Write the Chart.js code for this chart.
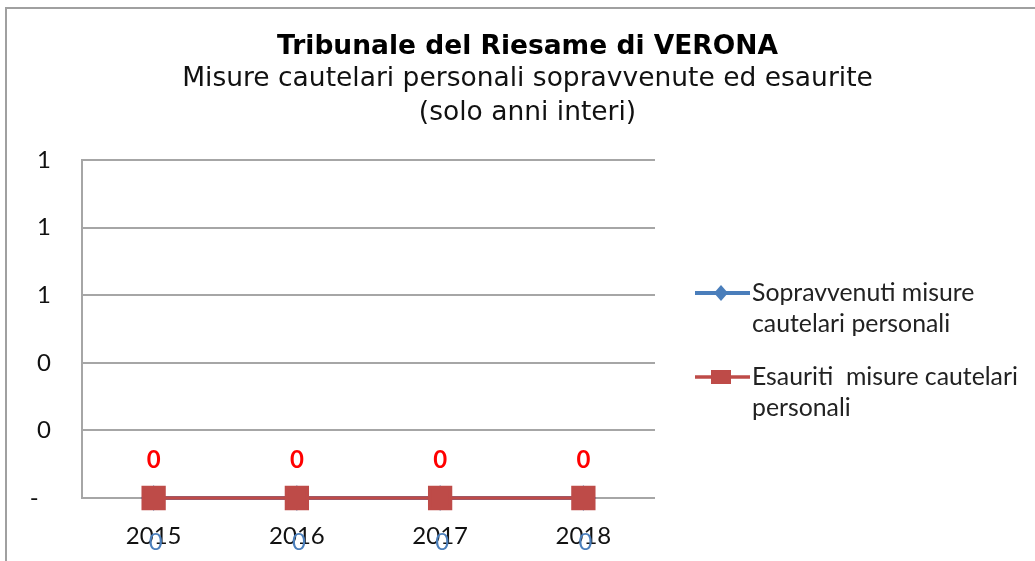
<!DOCTYPE html>
<html>
<head>
<meta charset="utf-8">
<script src="https://cdn.jsdelivr.net/npm/chart.js@4"></script>
<style>
    html, body { margin: 0; padding: 0; background: #fff; overflow: hidden; }
    #frame {
        position: absolute; left: 5px; top: 7px; width: 1100px; height: 600px;
        border-left: 2px solid #a0a0a0; border-top: 2px solid #a0a0a0;
    }
    #myChart { position: absolute; left: 0; top: 0; }
</style>
</head>
<body>
<div id="frame"></div>
<canvas id="myChart" width="1035" height="561"></canvas>
<script>
// Dati del grafico
const categories = ["2015", "2016", "2017", "2018"];
const sopravvenuti = [0, 0, 0, 0];
const esauriti = [0, 0, 0, 0];
const yTickLabels = ["-  ", "0", "0", "1", "1", "1"];
const seriesNames = [
    ["Sopravvenuti misure", "cautelari personali"],
    ["Esauriti  misure cautelari", "personali"],
];

const labelFont = "Lato, 'Open Sans', sans-serif";

// Etichette dei valori sopra/sotto i punti
const valueLabels = {
    id: "valueLabels",
    afterDatasetsDraw(chart) {
        const ctx = chart.ctx;
        ctx.save();
        ctx.textAlign = "center";
        ctx.textBaseline = "middle";
        chart.data.datasets.forEach((ds, i) => {
            const meta = chart.getDatasetMeta(i);
            const cfg = ds.valueLabel;
            ctx.font = cfg.font;
            ctx.fillStyle = cfg.color;
            meta.data.forEach((pt, j) => {
                ctx.fillText(String(ds.data[j]), pt.x + cfg.dx, pt.y + cfg.dy);
            });
        });
        ctx.restore();
    },
};

// Legenda disegnata a mano (testo su due righe)
const sideLegend = {
    id: "sideLegend",
    afterDraw(chart) {
        const ctx = chart.ctx;
        const rowsY = [293, 377];
        ctx.save();
        chart.data.datasets.forEach((ds, i) => {
            const y = rowsY[i];
            ctx.strokeStyle = ds.borderColor;
            ctx.lineWidth = ds.borderWidth;
            ctx.beginPath();
            ctx.moveTo(695, y);
            ctx.lineTo(750, y);
            ctx.stroke();
            ctx.fillStyle = ds.backgroundColor;
            ctx.beginPath();
            if (ds.pointStyle === "rectRot") {
                ctx.moveTo(721, y - 8);
                ctx.lineTo(728, y);
                ctx.lineTo(721, y + 8);
                ctx.lineTo(714, y);
                ctx.closePath();
            } else {
                ctx.rect(711, y - 7, 20, 14);
            }
            ctx.fill();
            ctx.font = "24.8px " + labelFont;
            ctx.fillStyle = "#222";
            ctx.textAlign = "left";
            ctx.textBaseline = "middle";
            seriesNames[i].forEach((line, k) => {
                ctx.fillText(line, 752, y + k * 31);
            });
        });
        ctx.restore();
    },
};

let chartInstance = null;

function initChart() {
    const ctx = document.getElementById("myChart");

    const data = {
        labels: categories,
        datasets: [
            {
                label: seriesNames[0].join(" "),
                data: sopravvenuti,
                borderColor: "#4a7ebb",
                backgroundColor: "#4a7ebb",
                borderWidth: 4,
                pointStyle: "rectRot",
                pointRadius: 10,
                clip: false,
                order: 1,
                valueLabel: { font: "24px " + labelFont, color: "#4a7ebb", dx: 2, dy: 44 },
            },
            {
                label: seriesNames[1].join(" "),
                data: esauriti,
                borderColor: "#be4b48",
                backgroundColor: "#be4b48",
                borderWidth: 3.5,
                pointStyle: "rect",
                pointRadius: 14.7,
                clip: false,
                order: 0,
                valueLabel: { font: "bold 24px " + labelFont, color: "#ff0000", dx: 0, dy: -38 },
            },
        ],
    };

    const config = {
        type: "line",
        data: data,
        options: {
            responsive: false,
            devicePixelRatio: 1,
            animation: false,
            layout: { padding: { left: 20, right: 0, top: 0, bottom: 0 } },
            plugins: {
                legend: { display: false },
                tooltip: { enabled: false },
                title: {
                    display: true,
                    text: "Tribunale del Riesame di VERONA",
                    color: "#000",
                    font: { family: "'DejaVu Sans', Verdana, sans-serif", size: 26.5, weight: "bold", lineHeight: 1.2 },
                    padding: { top: 31, bottom: 0 },
                },
                subtitle: {
                    display: true,
                    text: ["Misure cautelari personali sopravvenute ed esaurite", "(solo anni interi)"],
                    color: "#111",
                    font: { family: "'DejaVu Sans', Verdana, sans-serif", size: 26.5, lineHeight: "33.5px" },
                    padding: { top: 0, bottom: 30.2 },
                },
            },
            scales: {
                x: {
                    offset: true,
                    grid: { display: false },
                    border: { display: false },
                    ticks: {
                        color: "#111",
                        padding: 16,
                        font: { family: labelFont, size: 24 },
                    },
                    afterFit(scale) { scale.height = 63; },
                },
                y: {
                    min: 0,
                    max: 1,
                    grid: { color: "#a6a6a6", lineWidth: 2, drawTicks: false },
                    border: { display: true, color: "#a6a6a6", width: 2 },
                    ticks: {
                        stepSize: 0.2,
                        padding: 31,
                        color: "#111",
                        font: { family: labelFont, size: 24 },
                        callback: (v, i) => yTickLabels[i],
                    },
                    afterFit(scale) { scale.width = 62; },
                },
                yLegend: {
                    position: "right",
                    display: true,
                    grid: { display: false, drawTicks: false },
                    border: { display: false },
                    ticks: { display: false },
                    afterFit(scale) { scale.width = 380; },
                },
            },
        },
        plugins: [valueLabels, sideLegend],
    };

    chartInstance = new Chart(ctx, config);
    return chartInstance;
}

initChart();
</script>
</body>
</html>
